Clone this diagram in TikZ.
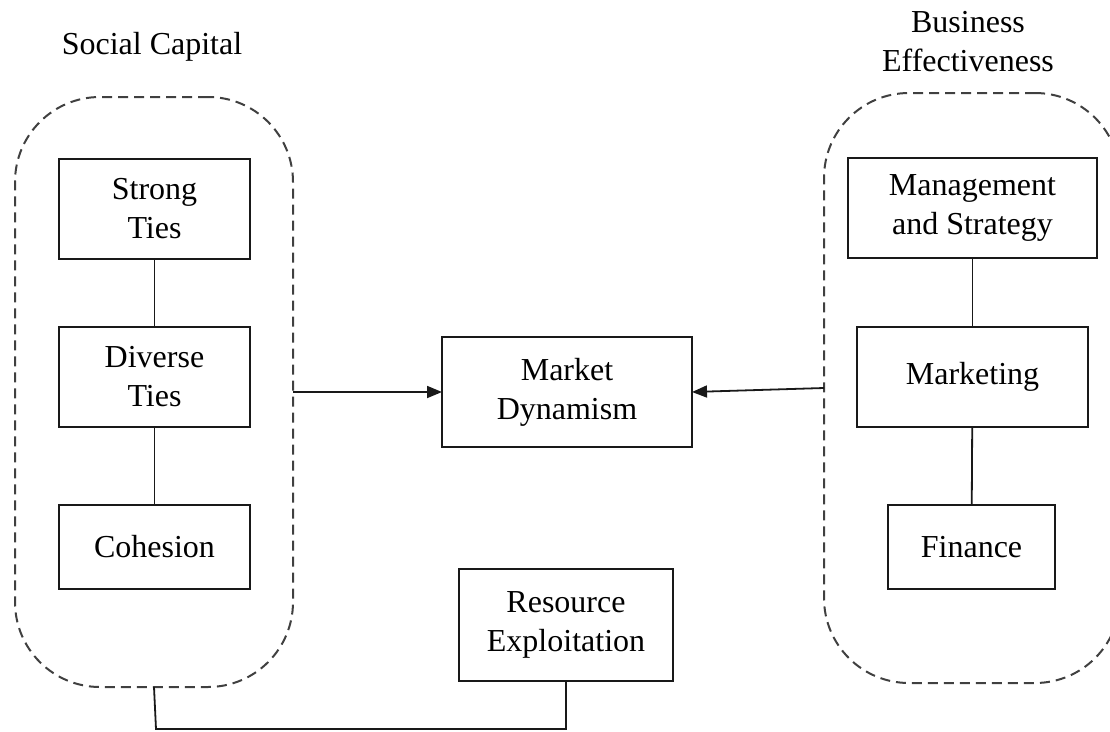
\documentclass[tikz,border=0pt]{standalone}
\usepackage{fontspec}
\setmainfont{Liberation Serif}
\usetikzlibrary{arrows.meta}
\begin{document}
\begin{tikzpicture}[x=1pt,y=-1pt,
  every node/.style={inner sep=0pt, outer sep=0pt},
  txt/.style={font=\fontsize{32}{39}\selectfont, align=center, text=black},
  box/.style={txt, draw=black!90, line width=2pt, fill=white},
  group/.style={draw=black!75, line width=2pt, dash pattern=on 10pt off 6pt, rounded corners=85pt},
  link/.style={draw=black!90, line width=1.8pt},
  arr/.style={link, -{Triangle[length=15pt,width=12pt]}}]
\useasboundingbox (0,0) rectangle (1110,731);
\begin{scope}
\clip (0,0) rectangle (1110,731);
% group outlines
\node[group, minimum width=278pt, minimum height=590pt] (L) at (154,392) {};
\node[group, minimum width=296pt, minimum height=590pt] (RB) at (972,388) {};
% titles
\node[txt] (lt) at (152,47) {Social Capital};
\node[txt] (rt) at (968,42) {Business\\Effectiveness};
% left boxes
\node[box, minimum width=191pt, minimum height=100pt] (st) at (154.5,209) {Strong\\Ties};
\node[box, minimum width=191pt, minimum height=100pt] (dt) at (154.5,377) {Diverse\\Ties};
\node[box, minimum width=191pt, minimum height=84pt] (co) at (154.5,547) {Cohesion};
% right boxes
\node[box, minimum width=249pt, minimum height=100pt] (ms) at (972.5,208) {Management\\and Strategy};
\node[box, minimum width=231pt, minimum height=100pt] (mk) at (972.5,377) {Marketing};
\node[box, minimum width=167pt, minimum height=84pt] (fi) at (971.5,547) {Finance};
% centre boxes
\node[box, minimum width=250pt, minimum height=110pt] (md) at (567,392) {Market\\Dynamism};
\node[box, minimum width=214pt, minimum height=112pt] (re) at (566,625) {Resource\\Exploitation};
% connectors
\draw[link] (st) -- (dt);
\draw[link] (dt) -- (co);
\draw[link] (ms) -- (mk);
\draw[link] (mk) -- (fi);
\draw[arr] (L.east) -- (md.west);
\draw[arr] (RB.west) -- (md.east);
\draw[link] (L.south) -- ++(2,42) coordinate (b1) -- (re.south |- b1) -- (re.south);
\end{scope}
\end{tikzpicture}
\end{document}
